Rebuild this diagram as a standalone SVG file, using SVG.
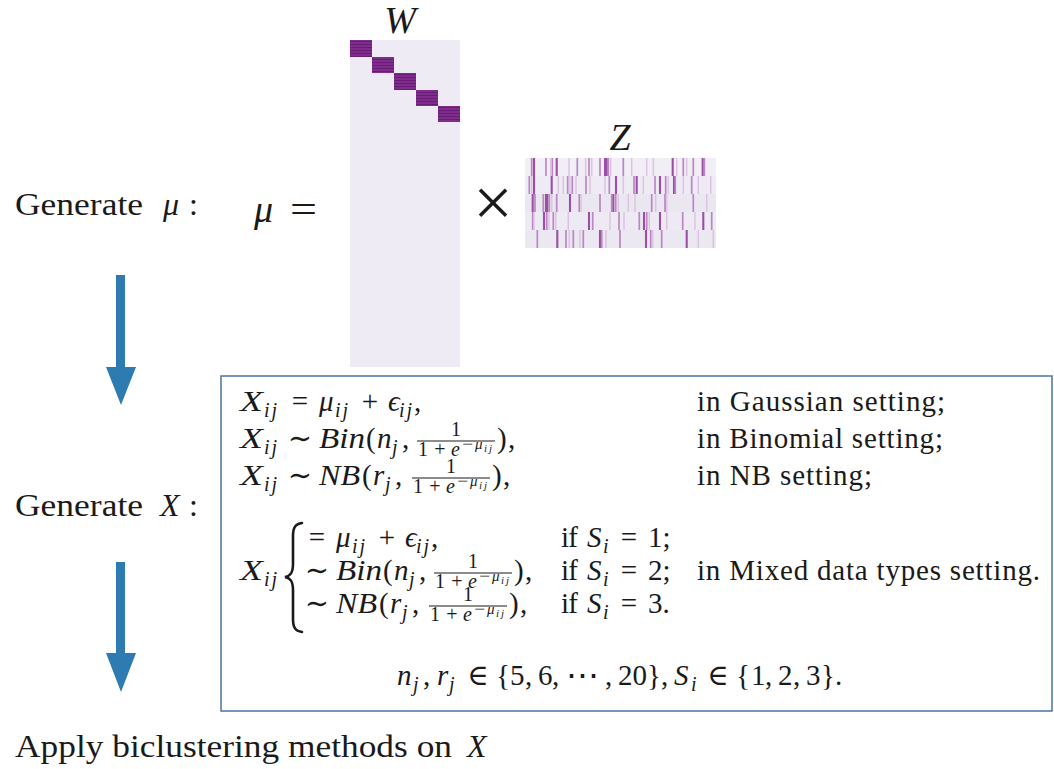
<svg xmlns="http://www.w3.org/2000/svg" width="1054" height="769" viewBox="0 0 1054 769">
<style>
.r{font-family:"Liberation Serif","DejaVu Serif",serif;fill:#1a1a1a}
.i{font-family:"Liberation Serif","DejaVu Serif",serif;font-style:italic;fill:#1a1a1a}
.b{font-size:29px}
.s{font-size:20px}
.ss{font-size:15px}
.sss{font-size:11px}
.L{font-size:32px}
.c{text-anchor:middle}
.bar{stroke:#1a1a1a;stroke-width:1.1}
.zd{stroke:#9b4ea6;stroke-width:2.1;fill:none}
.zm{stroke:#bb86c3;stroke-width:1.7;fill:none}
.zl{stroke:#dcc3e1;stroke-width:1.5;fill:none}
.arrow{fill:#2d7bb0}
</style>
<defs>
<pattern id="wp" width="8" height="3" patternUnits="userSpaceOnUse"><rect width="8" height="3" fill="#7f2d8b"/><rect y="2" width="8" height="1" fill="#6a1d78"/></pattern>
</defs>
<rect width="1054" height="769" fill="#ffffff"/>

<g id="node-W">
<rect x="350" y="40" width="110" height="327" fill="#efebf5"/>
<rect x="350" y="40" width="22" height="17" fill="url(#wp)"/>
<rect x="372" y="57" width="22" height="16" fill="url(#wp)"/>
<rect x="394" y="73" width="22" height="17" fill="url(#wp)"/>
<rect x="416" y="90" width="22" height="16" fill="url(#wp)"/>
<rect x="438" y="106" width="22" height="16" fill="url(#wp)"/>
<text class="i c" x="400" y="33" font-size="38">W</text>
</g>

<g id="node-times">
<text class="r c" x="493" y="226" font-size="70">×</text>
</g>

<g id="node-Z">
<rect x="525" y="158" width="191" height="18" fill="#f1eef6"/>
<rect x="525" y="176" width="191" height="18" fill="#efebf5"/>
<rect x="525" y="194" width="191" height="18" fill="#ebe7f1"/>
<rect x="525" y="212" width="191" height="18" fill="#eeeaf4"/>
<rect x="525" y="230" width="191" height="18" fill="#ece8f2"/>
<path class="zd" d="M534 158v18M556.7 158v18M605 158v18M606.7 158v18M672.7 158v18M702.7 158v18M534 176v18M551.7 176v18M616 176v18M636.7 176v18M660 176v18M674 176v18M532.7 194v18M546 194v18M547.3 194v18M570 194v18M613.3 194v18M544 212v18M589 212v18M644 212v18M660 212v18M703.3 212v18M557.3 230v18M600 230v18M646 230v18M686.7 230v18"/>
<path class="zm" d="M531.7 158v18M546 158v18M552.3 158v18M577.3 158v18M589 158v18M600 158v18M608.3 158v18M623.3 158v18M683.3 158v18M693.3 158v18M704.3 158v18M529.3 176v18M567.7 176v18M572.3 176v18M586 176v18M609.3 176v18M634 176v18M655 176v18M665.7 176v18M675.3 176v18M691.7 176v18M535 194v18M543.3 194v18M549.3 194v18M556.7 194v18M579.3 194v18M600 194v18M611.7 194v18M615.7 194v18M651.7 194v18M665 194v18M693.3 194v18M532.7 212v18M546.7 212v18M553.3 212v18M592.7 212v18M619 212v18M639.3 212v18M646.7 212v18M682.7 212v18M711.7 212v18M537.3 230v18M566 230v18M573.3 230v18M583.3 230v18M601.7 230v18M620 230v18M650.7 230v18M661.7 230v18"/>
<path class="zl" d="M550.7 158v18M569 158v18M585.7 158v18M591.7 158v18M610.7 158v18M631.7 158v18M646.7 158v18M653.3 158v18M676.7 158v18M686.7 158v18M531.7 176v18M558.3 176v18M563.3 176v18M570 176v18M576 176v18M590 176v18M605 176v18M623.3 176v18M643.3 176v18M668.3 176v18M683.3 176v18M698.3 176v18M710.7 176v18M551.7 194v18M581 194v18M618.3 194v18M628.3 194v18M635 194v18M655.7 194v18M666.7 194v18M706.7 194v18M534 212v18M549 212v18M555.7 212v18M568.3 212v18M610 212v18M624 212v18M649.3 212v18M666.7 212v18M695 212v18M569.3 230v18M580 230v18M606 230v18M652.7 230v18M698.3 230v18M713.3 230v18"/>
<text class="i c" x="620" y="150" font-size="38">Z</text>
</g>

<g id="node-gen-mu">
<text class="r L" x="15" y="215" textLength="128" lengthAdjust="spacingAndGlyphs">Generate</text>
<text class="i L" x="163" y="215">μ</text>
<text class="r L" x="189" y="215">:</text>
</g>

<g id="node-mu-eq">
<text class="i" x="254" y="222" font-size="38">μ</text>
<text class="r" x="290" y="222" font-size="38" textLength="27" lengthAdjust="spacingAndGlyphs">=</text>
</g>

<g id="node-gen-x">
<text class="r L" x="15" y="516" textLength="128" lengthAdjust="spacingAndGlyphs">Generate</text>
<text class="i L" x="160" y="516">X</text>
<text class="r L" x="189" y="516">:</text>
</g>

<g id="node-apply">
<text class="r L" x="15" y="757" textLength="437" lengthAdjust="spacingAndGlyphs">Apply biclustering methods on</text>
<text class="i L" x="467" y="757">X</text>
</g>

<g id="connectors">
<polygon class="arrow" points="116,275 125,275 125,367 136,367 121,405 106,367 116,367"/>
<polygon class="arrow" points="116,562 125,562 125,653 136,653 121,692 106,653 116,653"/>
</g>

<g id="node-formulas">
<rect x="221" y="376" width="831" height="335" fill="#ffffff" stroke="#4a74a3" stroke-width="1.5"/>

<text class="i b" x="240" y="411" textLength="23" lengthAdjust="spacingAndGlyphs">X</text>
<text class="i s" x="264" y="417" textLength="13">ij</text>
<text class="r b c" x="300" y="411">=</text>
<text class="i b" x="319" y="411">μ</text>
<text class="i s" x="335" y="417" textLength="13">ij</text>
<text class="r b c" x="370" y="411">+</text>
<text class="i b" x="388" y="411">ϵ</text>
<text class="i s" x="399" y="417" textLength="13">ij</text>
<text class="r b" x="414" y="411">,</text>
<text class="r b" x="697" y="411" textLength="248">in Gaussian setting;</text>

<text class="i b" x="240" y="448" textLength="23" lengthAdjust="spacingAndGlyphs">X</text>
<text class="i s" x="264" y="454" textLength="13">ij</text>
<text class="r b c" x="300" y="448">∼</text>
<text class="i b" x="319" y="448" textLength="46" lengthAdjust="spacingAndGlyphs">Bin</text>
<text class="r b" x="366" y="448">(</text>
<text class="i b" x="377" y="448">n</text>
<text class="i s" x="392" y="454">j</text>
<text class="r b" x="402" y="448">,</text>
<line class="bar" x1="417" y1="441" x2="495" y2="441"/>
<text class="r s c" x="456" y="436">1</text>
<text class="r s" x="418" y="456">1</text>
<text class="r s c" x="440" y="456">+</text>
<text class="i s" x="451" y="456">e</text>
<text class="r ss" x="462" y="449" textLength="11" lengthAdjust="spacingAndGlyphs">−</text>
<text class="i ss" x="475" y="449">μ</text>
<text class="i sss" x="484" y="452" textLength="8">ij</text>
<text class="r b" x="497" y="448">)</text>
<text class="r b" x="508" y="448">,</text>
<text class="r b" x="697" y="448" textLength="246">in Binomial setting;</text>

<text class="i b" x="240" y="485" textLength="23" lengthAdjust="spacingAndGlyphs">X</text>
<text class="i s" x="264" y="491" textLength="13">ij</text>
<text class="r b c" x="300" y="485">∼</text>
<text class="i b" x="319" y="485" textLength="41" lengthAdjust="spacingAndGlyphs">NB</text>
<text class="r b" x="362" y="485">(</text>
<text class="i b" x="373" y="485">r</text>
<text class="i s" x="385" y="491">j</text>
<text class="r b" x="395" y="485">,</text>
<line class="bar" x1="412" y1="478" x2="490" y2="478"/>
<text class="r s c" x="451" y="473">1</text>
<text class="r s" x="413" y="493">1</text>
<text class="r s c" x="435" y="493">+</text>
<text class="i s" x="446" y="493">e</text>
<text class="r ss" x="457" y="486" textLength="11" lengthAdjust="spacingAndGlyphs">−</text>
<text class="i ss" x="470" y="486">μ</text>
<text class="i sss" x="479" y="489" textLength="8">ij</text>
<text class="r b" x="492" y="485">)</text>
<text class="r b" x="503" y="485">,</text>
<text class="r b" x="697" y="485" textLength="175">in NB setting;</text>

<text class="i b" x="240" y="580" textLength="23" lengthAdjust="spacingAndGlyphs">X</text>
<text class="i s" x="264" y="586" textLength="13">ij</text>
<path d="M302,523 C295,524 293,528 293,536 L293,564 C293,572 291,576 285,577 C291,578 293,582 293,590 L293,619 C293,627 295,631 302,632" fill="none" stroke="#1a1a1a" stroke-width="2.6" stroke-linecap="round"/>

<text class="r b c" x="317" y="547">=</text>
<text class="i b" x="336" y="547">μ</text>
<text class="i s" x="352" y="553" textLength="13">ij</text>
<text class="r b c" x="387" y="547">+</text>
<text class="i b" x="405" y="547">ϵ</text>
<text class="i s" x="416" y="553" textLength="13">ij</text>
<text class="r b" x="431" y="547">,</text>
<text class="r b" x="561" y="547" textLength="17">if</text>
<text class="i b" x="587" y="547">S</text>
<text class="i s" x="603" y="553">i</text>
<text class="r b c" x="629" y="547">=</text>
<text class="r b" x="648" y="547">1;</text>

<text class="r b c" x="317" y="580">∼</text>
<text class="i b" x="336" y="580" textLength="46" lengthAdjust="spacingAndGlyphs">Bin</text>
<text class="r b" x="383" y="580">(</text>
<text class="i b" x="394" y="580">n</text>
<text class="i s" x="409" y="586">j</text>
<text class="r b" x="419" y="580">,</text>
<line class="bar" x1="434" y1="573" x2="512" y2="573"/>
<text class="r s c" x="473" y="568">1</text>
<text class="r s" x="435" y="588">1</text>
<text class="r s c" x="457" y="588">+</text>
<text class="i s" x="468" y="588">e</text>
<text class="r ss" x="479" y="581" textLength="11" lengthAdjust="spacingAndGlyphs">−</text>
<text class="i ss" x="492" y="581">μ</text>
<text class="i sss" x="501" y="584" textLength="8">ij</text>
<text class="r b" x="514" y="580">)</text>
<text class="r b" x="525" y="580">,</text>
<text class="r b" x="561" y="580" textLength="17">if</text>
<text class="i b" x="587" y="580">S</text>
<text class="i s" x="603" y="586">i</text>
<text class="r b c" x="629" y="580">=</text>
<text class="r b" x="648" y="580">2;</text>
<text class="r b" x="697" y="580" textLength="343">in Mixed data types setting.</text>

<text class="r b c" x="317" y="613">∼</text>
<text class="i b" x="336" y="613" textLength="41" lengthAdjust="spacingAndGlyphs">NB</text>
<text class="r b" x="379" y="613">(</text>
<text class="i b" x="390" y="613">r</text>
<text class="i s" x="402" y="619">j</text>
<text class="r b" x="412" y="613">,</text>
<line class="bar" x1="429" y1="606" x2="507" y2="606"/>
<text class="r s c" x="468" y="601">1</text>
<text class="r s" x="430" y="621">1</text>
<text class="r s c" x="452" y="621">+</text>
<text class="i s" x="463" y="621">e</text>
<text class="r ss" x="474" y="614" textLength="11" lengthAdjust="spacingAndGlyphs">−</text>
<text class="i ss" x="487" y="614">μ</text>
<text class="i sss" x="496" y="617" textLength="8">ij</text>
<text class="r b" x="509" y="613">)</text>
<text class="r b" x="520" y="613">,</text>
<text class="r b" x="561" y="613" textLength="17">if</text>
<text class="i b" x="587" y="613">S</text>
<text class="i s" x="603" y="619">i</text>
<text class="r b c" x="629" y="613">=</text>
<text class="r b" x="648" y="613">3.</text>

<text class="i b" x="397" y="685">n</text>
<text class="i s" x="413" y="691">j</text>
<text class="r b" x="423" y="685">,</text>
<text class="i b" x="437" y="685">r</text>
<text class="i s" x="449" y="691">j</text>
<text class="r b c" x="478" y="685">∈</text>
<text class="r b" x="496" y="685">{</text>
<text class="r b" x="510" y="685">5</text>
<text class="r b" x="525" y="685">,</text>
<text class="r b" x="538" y="685">6</text>
<text class="r b" x="552" y="685">,</text>
<text class="r b" x="566" y="685" textLength="33" lengthAdjust="spacingAndGlyphs">⋯</text>
<text class="r b" x="605" y="685">,</text>
<text class="r b" x="618" y="685">20</text>
<text class="r b" x="647" y="685">}</text>
<text class="r b" x="661" y="685">,</text>
<text class="i b" x="674" y="685">S</text>
<text class="i s" x="691" y="691">i</text>
<text class="r b c" x="718" y="685">∈</text>
<text class="r b" x="736" y="685">{</text>
<text class="r b" x="751" y="685">1</text>
<text class="r b" x="765" y="685">,</text>
<text class="r b" x="778" y="685">2</text>
<text class="r b" x="793" y="685">,</text>
<text class="r b" x="806" y="685">3</text>
<text class="r b" x="821" y="685">}</text>
<text class="r b" x="835" y="685">.</text>
</g>
</svg>
